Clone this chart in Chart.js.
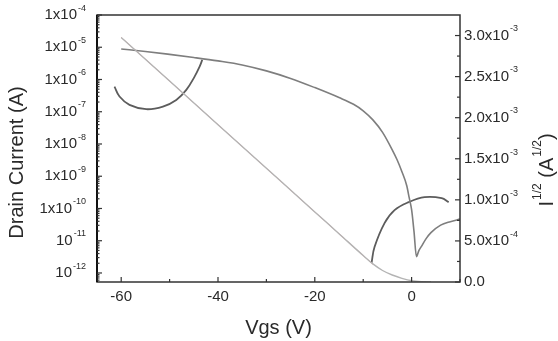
<!DOCTYPE html>
<html>
<head>
<meta charset="utf-8">
<script src="https://cdn.jsdelivr.net/npm/chart.js@4/dist/chart.umd.min.js"></script>
<style>
  html, body { margin: 0; padding: 0; background: #fff; }
  #wrap { width: 558px; height: 341px; position: relative; }
</style>
</head>
<body>
<div id="wrap"><canvas id="transferChart"></canvas></div>
<script>
// drain current (log, left axis)
const idVgs = [-60, -55, -50, -45, -40, -35, -30, -25, -20, -15, -12, -10, -8, -6, -4, -3, -2, -1, -0.5, 0, 0.5, 1, 1.5, 2, 3, 4, 6, 8, 10];
const idCurrent = [8.85e-6, 7.4e-6, 6.0e-6, 4.8e-6, 3.77e-6, 2.83e-6, 1.85e-6, 1.08e-6, 5.6e-7, 2.75e-7, 1.7e-7, 1.07e-7, 5.6e-8, 2.3e-8, 6.61e-9, 3.24e-9, 1.38e-9, 5.08e-10, 2.16e-10, 9.18e-11, 1.91e-11, 3.22e-12, 4.94e-12, 6.56e-12, 1.16e-11, 1.78e-11, 3.04e-11, 3.90e-11, 4.67e-11];

// sqrt(Id) (right axis)
const sqrtVgs = [-60, -50, -40, -30, -20, -15, -10, -8, -6, -4, -2, 0, 2, 4];
const sqrtCurrent = [2.977e-3, 2.446e-3, 1.915e-3, 1.384e-3, 0.853e-3, 0.588e-3, 0.322e-3, 0.22e-3, 0.14e-3, 0.085e-3, 0.045e-3, 0.015e-3, 0.003e-3, 0.001e-3];

// linear fit on sqrt(Id)
const fitVgs = [-60, -8];
const fitSqrt = [2.977e-3, 0.216e-3];

// curved arrows pointing to each axis
const leftArrowVgs = [-61.39, -60.35, -58.29, -54.83, -51.38, -48.62, -46.55, -44.84, -43.8, -43.25];
const leftArrowI = [6.03e-7, 2.96e-7, 1.64e-7, 1.20e-7, 1.45e-7, 2.33e-7, 4.76e-7, 1.23e-6, 2.51e-6, 4.05e-6];
const rightArrowVgs = [-8.28, -7.66, -5.59, -3.52, -0.62, 2.69, 6.21, 7.66];
const rightArrowSqrt = [0.231e-3, 0.425e-3, 0.717e-3, 0.875e-3, 0.972e-3, 1.033e-3, 1.021e-3, 0.972e-3];

// ticks
const xTicks = [-60, -50, -40, -30, -20, -10, 0, 10];
const xTickLabels = ["-60", "", "-40", "", "-20", "", "0", ""];
const leftTicks = [1e-4, 1e-5, 1e-6, 1e-7, 1e-8, 1e-9, 1e-10, 1e-11, 1e-12];
const leftTickLabels = [["1x10", "-4"], ["1x10", "-5"], ["1x10", "-6"], ["1x10", "-7"], ["1x10", "-8"], ["1x10", "-9"], ["1x10", "-10"], ["10", "-11"], ["10", "-12"]];
const rightTicks = [0, 0.5e-3, 1.0e-3, 1.5e-3, 2.0e-3, 2.5e-3, 3.0e-3];
const rightTickLabels = [["0.0", ""], ["5.0x10", "-4"], ["1.0x10", "-3"], ["1.5x10", "-3"], ["2.0x10", "-3"], ["2.5x10", "-3"], ["3.0x10", "-3"]];

const FONT = "'Liberation Sans', Arial, sans-serif";
const TXT = "#2a2a2a";

function pts(xs, ys) {
  return xs.map((x, i) => ({ x: x, y: ys[i] }));
}

// widths of base text and superscript
function supWidth(ctx, base, sup, size) {
  ctx.font = size + "px " + FONT;
  const bw = ctx.measureText(base).width;
  ctx.font = Math.round(size * 0.62) + "px " + FONT;
  const sw = sup ? ctx.measureText(sup).width + 1 : 0;
  return [bw, sw];
}

function drawSup(ctx, base, sup, x, y, align, size) {
  const [bw, sw] = supWidth(ctx, base, sup, size);
  let x0 = x;
  if (align === "right") x0 = x - bw - sw;
  if (align === "center") x0 = x - (bw + sw) / 2;
  ctx.textAlign = "left";
  ctx.textBaseline = "middle";
  ctx.font = size + "px " + FONT;
  ctx.fillText(base, x0, y);
  if (sup) {
    ctx.font = Math.round(size * 0.62) + "px " + FONT;
    ctx.fillText(sup, x0 + bw + 1, y - size * 0.45);
  }
}

const axisDecor = {
  id: "axisDecor",
  afterDraw(chart) {
    const { ctx, chartArea: a, scales } = chart;
    const x = scales.x, y = scales.y, y1 = scales.y1;
    ctx.save();

    // frame
    ctx.strokeStyle = "#333";
    ctx.lineWidth = 1.5;
    ctx.strokeRect(a.left, a.top, a.right - a.left, a.bottom - a.top);
    ctx.lineWidth = 2;
    ctx.strokeStyle = "#111";
    ctx.beginPath();
    ctx.moveTo(a.left, a.top); ctx.lineTo(a.left, a.bottom);
    ctx.stroke();

    // bottom ticks (inward)
    ctx.lineWidth = 1.2;
    ctx.strokeStyle = "#333";
    xTicks.forEach((v, i) => {
      const px = x.getPixelForValue(v);
      const len = xTickLabels[i] ? 5 : 3;
      ctx.beginPath();
      ctx.moveTo(px, a.bottom); ctx.lineTo(px, a.bottom - len);
      ctx.stroke();
    });

    // left log ticks
    leftTicks.forEach(v => {
      const py = y.getPixelForValue(v);
      ctx.beginPath();
      ctx.moveTo(a.left, py); ctx.lineTo(a.left + 5, py);
      ctx.stroke();
      for (let m = 2; m <= 9; m++) {
        const mv = v * m;
        if (mv > y.max || mv < y.min) continue;
        const my = y.getPixelForValue(mv);
        ctx.beginPath();
        ctx.moveTo(a.left, my); ctx.lineTo(a.left + 2.5, my);
        ctx.stroke();
      }
    });
    // minor below 1e-12
    for (let m = 6; m <= 9; m++) {
      const my = y.getPixelForValue(m * 1e-13);
      ctx.beginPath();
      ctx.moveTo(a.left, my); ctx.lineTo(a.left + 2.5, my);
      ctx.stroke();
    }

    // right ticks
    rightTicks.forEach(v => {
      const py = y1.getPixelForValue(v);
      ctx.beginPath();
      ctx.moveTo(a.right, py); ctx.lineTo(a.right - 5, py);
      ctx.stroke();
      const my = y1.getPixelForValue(v + 0.25e-3);
      if (my >= a.top) {
        ctx.beginPath();
        ctx.moveTo(a.right, my); ctx.lineTo(a.right - 3, my);
        ctx.stroke();
      }
    });

    // tick labels
    ctx.fillStyle = TXT;
    xTicks.forEach((v, i) => {
      if (!xTickLabels[i]) return;
      drawSup(ctx, xTickLabels[i], "", x.getPixelForValue(v), a.bottom + 15, "center", 15);
    });
    leftTicks.forEach((v, i) => {
      drawSup(ctx, leftTickLabels[i][0], leftTickLabels[i][1], a.left - 11, y.getPixelForValue(v), "right", 15);
    });
    rightTicks.forEach((v, i) => {
      drawSup(ctx, rightTickLabels[i][0], rightTickLabels[i][1], a.right + 4, y1.getPixelForValue(v), "left", 15);
    });

    // axis titles
    drawSup(ctx, "Vgs (V)", "", (a.left + a.right) / 2, 328, "center", 20);

    ctx.save();
    ctx.translate(17, (a.top + a.bottom) / 2 + 14);
    ctx.rotate(-Math.PI / 2);
    drawSup(ctx, "Drain Current (A)", "", 0, 0, "center", 20);
    ctx.restore();

    ctx.save();
    ctx.translate(547, 170);
    ctx.rotate(-Math.PI / 2);
    const [w1, s1] = supWidth(ctx, "I", "1/2", 20);
    const [w2, s2] = supWidth(ctx, " (A", "1/2", 20);
    const [w3] = supWidth(ctx, ")", "", 20);
    let cx = -(w1 + s1 + w2 + s2 + w3) / 2;
    drawSup(ctx, "I", "1/2", cx, 0, "left", 20);
    cx += w1 + s1;
    drawSup(ctx, " (A", "1/2", cx, 0, "left", 20);
    cx += w2 + s2;
    drawSup(ctx, ")", "", cx, 0, "left", 20);
    ctx.restore();

    ctx.restore();
  }
};

new Chart(document.getElementById("transferChart"), {
  type: "line",
  data: {
    datasets: [
      {
        label: "sqrt(Id)",
        data: pts(sqrtVgs, sqrtCurrent),
        yAxisID: "y1",
        borderColor: "#b4b4b4",
        borderWidth: 1.4,
        cubicInterpolationMode: "monotone",
      },
      {
        label: "fit",
        data: pts(fitVgs, fitSqrt),
        yAxisID: "y1",
        borderColor: "rgba(225,130,130,0.75)",
        borderWidth: 1,
        tension: 0,
      },
      {
        label: "Id",
        data: pts(idVgs, idCurrent),
        yAxisID: "y",
        borderColor: "#7e7e7e",
        borderWidth: 1.6,
        cubicInterpolationMode: "monotone",
      },
      {
        label: "left arrow",
        data: pts(leftArrowVgs, leftArrowI),
        yAxisID: "y",
        borderColor: "#5c5c5c",
        borderWidth: 1.8,
        tension: 0.4,
      },
      {
        label: "right arrow",
        data: pts(rightArrowVgs, rightArrowSqrt),
        yAxisID: "y1",
        borderColor: "#5c5c5c",
        borderWidth: 1.8,
        tension: 0.4,
      },
    ],
  },
  options: {
    responsive: true,
    maintainAspectRatio: false,
    animation: false,
    layout: { padding: { top: 15, left: 0, right: 0, bottom: 0 } },
    elements: { point: { radius: 0 } },
    plugins: { legend: { display: false }, tooltip: { enabled: false } },
    scales: {
      x: {
        type: "linear",
        min: -65,
        max: 10,
        afterBuildTicks: s => { s.ticks = xTicks.map(v => ({ value: v })); },
        afterFit: s => { s.height = 59; },
        ticks: { display: false },
        grid: { display: false, drawTicks: false },
        border: { display: false },
      },
      y: {
        type: "logarithmic",
        position: "left",
        min: 5.25e-13,
        max: 1e-4,
        afterFit: s => { s.width = 97; },
        ticks: { display: false },
        grid: { display: false, drawTicks: false },
        border: { display: false },
      },
      y1: {
        type: "linear",
        position: "right",
        min: 0,
        max: 3.25e-3,
        afterFit: s => { s.width = 98; },
        ticks: { display: false },
        grid: { display: false, drawTicks: false },
        border: { display: false },
      },
    },
  },
  plugins: [axisDecor],
});
</script>
</body>
</html>
